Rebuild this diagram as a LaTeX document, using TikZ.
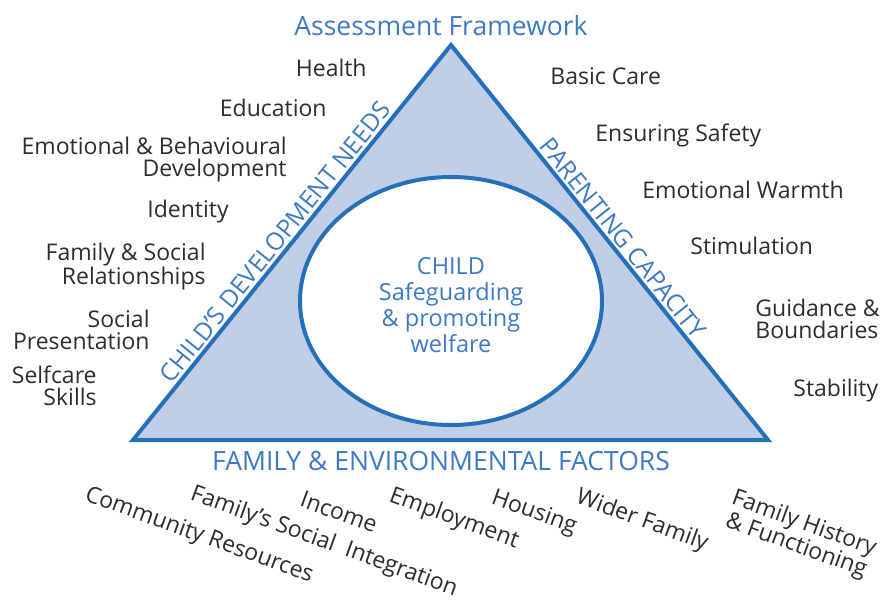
\documentclass[tikz,border=0pt]{standalone}
\usepackage{fontspec}
\setmainfont{Open Sans}
\usetikzlibrary{shapes.geometric}

\definecolor{frameblue}{RGB}{38,112,186}
\definecolor{fillblue}{RGB}{193,206,232}
\definecolor{textblue}{RGB}{62,122,196}
\definecolor{labelgray}{RGB}{45,45,45}

\begin{document}
\begin{tikzpicture}[x=1pt,y=-1pt,
        thick,
        item/.style={text=labelgray,inner sep=0pt,font=\fontsize{23}{22}\selectfont},
        left item/.style={item,anchor=east,align=right},
        right item/.style={item,anchor=west,align=left},
        factor/.style={item,rotate=-20,align=center},
        heading/.style={text=textblue,inner sep=0pt,font=\fontsize{26.5}{30}\selectfont},
        side label/.style={heading,inner sep=4pt,font=\fontsize{24.5}{28}\selectfont}]

    \useasboundingbox (0,0) rectangle (884,600);

    % the triangle and the child in the middle
    \coordinate (apex) at (451,45);
    \coordinate (bl) at (133,440);
    \coordinate (br) at (768,440);
    \draw[frameblue,fill=fillblue,line width=4pt] (apex) -- (bl) -- (br) -- cycle;

    \node[ellipse,draw=frameblue,fill=white,line width=4pt,
          minimum width=302,minimum height=248] (child) at (451,301) {};
    \node[text=textblue,align=center,font=\fontsize{23.5}{26}\selectfont] (welfare) at (451,305)
        {CHILD\\Safeguarding\\\& promoting\\welfare};

    % headings
    \node[heading] (title) at (441,26) {Assessment Framework};
    \node[heading] (factors) at (441,461) {FAMILY \& ENVIRONMENTAL FACTORS};
    \path (bl) -- (apex) node[side label,sloped,above,pos=0.48] (needs) {CHILD’S DEVELOPMENT NEEDS};
    \path (apex) -- (br) node[side label,sloped,above,pos=0.51] (parenting) {PARENTING CAPACITY};

    % child's development needs
    \node[left item] (health) at (367,68) {Health};
    \node[left item] (education) at (327,108) {Education};
    \node[left item] (emotional) at (287,160) {Emotional \& Behavioural\\Development};
    \node[left item] (identity) at (229,212) {Identity};
    \node[left item] (family) at (206,267) {Family \& Social\\Relationships};
    \node[left item] (social) at (150,330) {Social\\Presentation};
    \node[left item] (selfcare) at (97,386) {Selfcare\\Skills};

    % parenting capacity
    \node[right item] (care) at (550,76) {Basic Care};
    \node[right item] (safety) at (595,135) {Ensuring Safety};
    \node[right item] (warmth) at (642,190) {Emotional Warmth};
    \node[right item] (stimulation) at (690,246) {Stimulation};
    \node[right item] (guidance) at (755,319) {Guidance \&\\Boundaries};
    \node[right item] (stability) at (793,391) {Stability};

    % family and environmental factors
    \node[factor] (community) at (199,536) {Community Resources};
    \node[factor] (integration) at (324,542) {Family’s Social\ \ Integration};
    \node[factor] (income) at (339,512) {Income};
    \node[factor] (employment) at (454,519) {Employment};
    \node[factor] (housing) at (534,513) {Housing};
    \node[factor] (wider) at (642,521) {Wider Family};
    \node[factor] (history) at (800,535) {Family History\\\& Functioning};
\end{tikzpicture}
\end{document}
